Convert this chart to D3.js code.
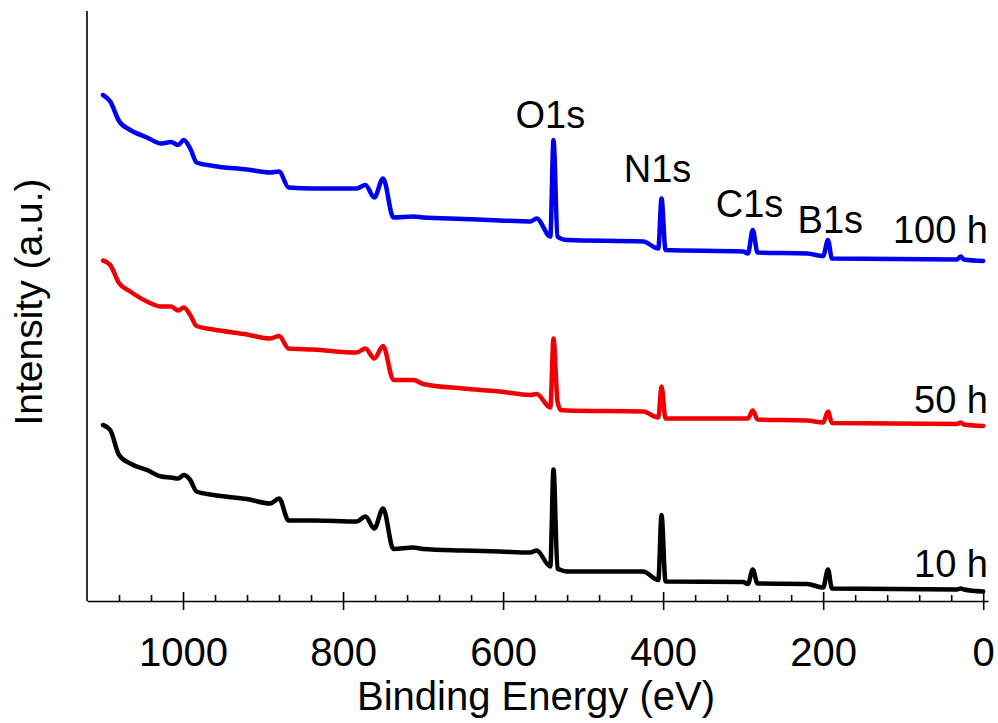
<!DOCTYPE html>
<html>
<head>
<meta charset="utf-8">
<script src="https://d3js.org/d3.v7.min.js"></script>
<style>
	body { margin: 0; background: #fff; }
	svg text { font-family: "Liberation Sans", Arial, sans-serif; fill: #000; }
	.axis path, .axis line { stroke: #000; stroke-width: 1.6; }
</style>
</head>
<body>
<svg id="chart"></svg>
<script>
// Binding energy grid (eV), shared by all three spectra.
var energies = [1100, 1091, 1080, 1066, 1045, 1027, 1015, 1006, 999, 991,
	983, 962, 920, 891, 880, 868, 837, 783, 772, 761,
	750, 737, 712, 700, 650, 604, 566, 558, 541, 537,
	532, 528, 520, 425, 406, 402, 397, 300, 294, 288,
	282, 220, 200, 194, 189, 33, 28, 24, 0];

// Intensities (a.u.), already stacked with their offsets.
var spectrum100h = [101.2, 99.9, 96.0, 94.2, 92.7, 91.5, 91.8, 91.2, 92.2, 90.5,
	87.7, 87.0, 86.3, 85.7, 85.9, 82.7, 82.5, 82.5, 83.2, 80.7,
	84.5, 76.7, 76.9, 76.7, 76.4, 76.1, 75.9, 76.5, 72.9, 92.2,
	72.9, 72.5, 72.2, 71.9, 70.5, 80.5, 70.2, 69.9, 69.5, 74.2,
	69.7, 69.5, 69.0, 72.2, 68.5, 68.3, 68.9, 68.3, 68.0];
var spectrum50h = [68.1, 67.2, 63.6, 61.9, 59.9, 58.9, 58.9, 58.1, 58.7, 57.2,
	55.0, 54.3, 53.3, 52.5, 53.0, 50.5, 50.3, 49.7, 50.5, 48.5,
	51.0, 44.2, 44.2, 43.4, 42.5, 41.9, 41.2, 41.4, 38.7, 52.5,
	39.9, 38.2, 38.1, 37.9, 36.7, 42.9, 36.5, 36.5, 36.5, 38.1,
	36.3, 36.1, 35.7, 37.9, 35.6, 35.4, 35.7, 35.3, 35.0];
var spectrum10h = [35.2, 34.2, 29.2, 27.5, 26.2, 24.9, 24.7, 24.5, 25.2, 24.2,
	21.9, 21.2, 20.4, 19.5, 20.5, 16.1, 16.1, 15.9, 16.9, 14.5,
	18.5, 10.4, 10.7, 10.4, 10.1, 9.9, 9.7, 10.1, 6.9, 26.3,
	6.5, 6.2, 5.9, 5.9, 4.2, 17.2, 3.9, 3.8, 3.4, 6.3,
	3.5, 3.4, 2.7, 6.3, 2.5, 2.3, 2.5, 2.3, 1.9];

var seriesNames = ["100 h", "50 h", "10 h"];
var seriesColors = ["#0000f0", "#f00000", "#000000"];
var seriesLabelY = [71.6, 37.6, 4.8];

// Peak labels: name, binding energy position, intensity position.
var peakNames = ["O1s", "N1s", "C1s", "B1s"];
var peakEnergies = [541, 407, 292, 191];
var peakLabelY = [94.6, 83.8, 76.8, 73.6];

var majorTicks = [1000, 800, 600, 400, 200, 0];

(function()
{
	// Definitions.
	var width = 998;
	var height = 723;
	var left = 87, right = 988, top = 11, bottom = 601;
	var fontSize = 38;

	var svg = d3.select("#chart")
		.attr("width", width)
		.attr("height", height);

	var x = d3.scaleLinear().domain([1120, -6]).range([left, right]);
	var y = d3.scaleLinear().domain([0, 118]).range([bottom, top]);

	// Minor ticks every 40 eV, pointing inwards.
	var minorTicks = d3.range(1080, 0, -40).filter(function(d) { return d % 200 != 0; });
	svg.append("g")
		.attr("class", "axis")
		.attr("transform", "translate(0," + bottom + ")")
		.call(d3.axisBottom(x).tickValues(minorTicks).tickSize(-6).tickFormat(""))
		.select(".domain").remove();

	// Major ticks, crossing the axis line.
	var xAxis = svg.append("g")
		.attr("class", "axis")
		.attr("transform", "translate(0," + bottom + ")")
		.call(d3.axisBottom(x)
			.tickValues(majorTicks)
			.tickFormat(d3.format("d"))
			.tickSize(9)
			.tickSizeOuter(0)
			.tickPadding(28));
	xAxis.selectAll(".tick").append("line").attr("y2", -9);
	xAxis.selectAll(".tick text")
		.style("font-size", "40px")
		.style("font-family", "'Liberation Sans', Arial, sans-serif")
		.attr("fill", "#000");

	// Left axis line only.
	svg.append("line")
		.attr("x1", left).attr("x2", left)
		.attr("y1", top).attr("y2", bottom)
		.attr("stroke", "#000")
		.attr("stroke-width", 1.6);

	// Spectra.
	var line = d3.line()
		.curve(d3.curveMonotoneX)
		.x(function(d) { return x(d[0]); })
		.y(function(d) { return y(d[1]); });
	var spectra = [spectrum100h, spectrum50h, spectrum10h];
	spectra.forEach(function(values, i)
	{
		var points = energies.map(function(e, j) { return [e, values[j]]; });
		svg.append("path")
			.datum(points)
			.attr("d", line)
			.attr("fill", "none")
			.attr("stroke", seriesColors[i])
			.attr("stroke-width", 4.5)
			.attr("stroke-linejoin", "round")
			.attr("stroke-linecap", "round");

		svg.append("text")
			.attr("x", right)
			.attr("y", y(seriesLabelY[i]))
			.attr("text-anchor", "end")
			.style("font-size", fontSize + "px")
			.text(seriesNames[i]);
	});

	// Peak labels.
	svg.selectAll(".peak")
		.data(peakNames)
		.enter()
		.append("text")
		.attr("class", "peak")
		.attr("x", function(d, i) { return x(peakEnergies[i]); })
		.attr("y", function(d, i) { return y(peakLabelY[i]); })
		.attr("text-anchor", "middle")
		.style("font-size", fontSize + "px")
		.text(function(d) { return d; });

	// Axis titles.
	svg.append("text")
		.attr("x", 536)
		.attr("y", 710)
		.attr("text-anchor", "middle")
		.style("font-size", "40px")
		.text("Binding Energy (eV)");

	svg.append("text")
		.attr("transform", "translate(42,302) rotate(-90)")
		.attr("text-anchor", "middle")
		.style("font-size", "39px")
		.text("Intensity (a.u.)");
})();
</script>
</body>
</html>
